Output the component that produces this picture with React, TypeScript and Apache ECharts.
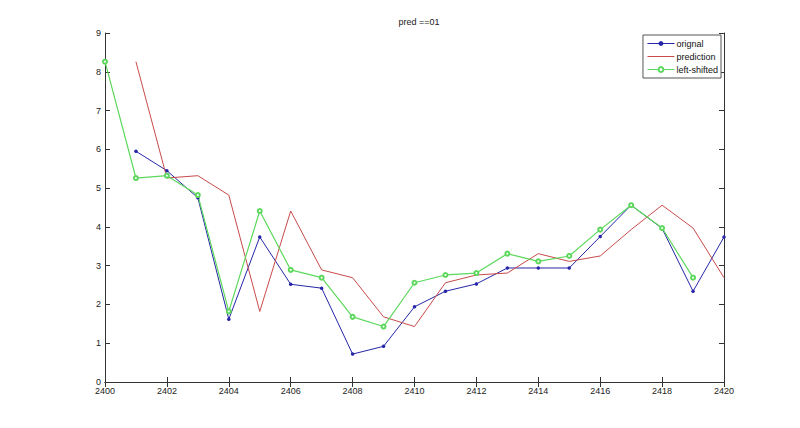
import React, { useEffect, useRef } from "react";
import * as echarts from "echarts";

const xOriginal = [2401, 2402, 2403, 2404, 2405, 2406, 2407, 2408, 2409, 2410, 2411, 2412, 2413, 2414, 2415, 2416, 2417, 2418, 2419, 2420];
const original = [5.95, 5.45, 4.75, 1.62, 3.74, 2.52, 2.42, 0.72, 0.92, 1.94, 2.34, 2.53, 2.94, 2.94, 2.94, 3.75, 4.56, 3.96, 2.34, 3.74];

const xPrediction = [2401, 2402, 2403, 2404, 2405, 2406, 2407, 2408, 2409, 2410, 2411, 2412, 2413, 2414, 2415, 2416, 2417, 2418, 2419, 2420];
const prediction = [8.26, 5.26, 5.32, 4.82, 1.82, 4.41, 2.89, 2.69, 1.68, 1.43, 2.56, 2.76, 2.81, 3.31, 3.11, 3.25, 3.93, 4.56, 3.97, 2.69];

const xShifted = [2400, 2401, 2402, 2403, 2404, 2405, 2406, 2407, 2408, 2409, 2410, 2411, 2412, 2413, 2414, 2415, 2416, 2417, 2418, 2419];
const shifted = [8.26, 5.26, 5.32, 4.82, 1.82, 4.41, 2.89, 2.69, 1.68, 1.43, 2.56, 2.76, 2.81, 3.31, 3.11, 3.25, 3.93, 4.56, 3.97, 2.69];

const seriesNames = ["orignal", "prediction", "left-shifted"];
const titleText = "pred ==01";

const pair = (xs: number[], ys: number[]) => xs.map((x, i) => [x, ys[i]]);

export default function App() {
  const ref = useRef<HTMLDivElement>(null);
  useEffect(() => {
    if (!ref.current) return;
    const chart = echarts.init(ref.current, null, { renderer: "svg" });
    const axisColor = "#333";
    const font = "Helvetica, Arial, 'Liberation Sans', sans-serif";
    const blue = "#2626a8";
    const red = "#c84a4a";
    const green = "#5cd85c";
    const grid = { left: 105, top: 33, width: 619, height: 349 };
    const common = {
      axisLine: { show: true, lineStyle: { color: axisColor, width: 1 } },
      axisTick: { show: true, inside: true, length: 5, lineStyle: { color: axisColor } },
      splitLine: { show: false },
    };
    chart.setOption({
      animation: false,
      backgroundColor: "#fff",
      title: {
        text: titleText,
        left: 414,
        top: 12,
        textAlign: "center",
        textStyle: { fontSize: 9, fontWeight: "normal", color: "#222", fontFamily: font },
      },
      legend: {
        orient: "vertical",
        right: 79,
        top: 35,
        backgroundColor: "#fff",
        borderColor: "#555",
        borderWidth: 1,
        borderRadius: 0,
        padding: [4, 3, 4, 4],
        itemGap: 4,
        itemWidth: 27,
        itemHeight: 6,
        lineStyle: { width: 1 },
        textStyle: { fontSize: 9, color: "#111", fontFamily: font, padding: [0, 0, 0, -3] },
        data: [
          { name: seriesNames[0] },
          { name: seriesNames[1], itemStyle: { opacity: 0 } },
          { name: seriesNames[2] },
        ],
      },
      grid,
      xAxis: [
        {
          type: "value",
          min: 2400,
          max: 2420,
          interval: 2,
          position: "bottom",
          ...common,
          axisLabel: { color: "#222", fontSize: 9, fontFamily: font, margin: 4, formatter: (v: number) => String(v) },
        },
        {
          type: "value",
          min: 2400,
          max: 2420,
          interval: 2,
          position: "top",
          ...common,
          axisLabel: { show: false },
        },
      ],
      yAxis: [
        {
          type: "value",
          min: 0,
          max: 9,
          interval: 1,
          position: "left",
          ...common,
          axisLabel: { color: "#222", fontSize: 9, fontFamily: font, margin: 4 },
        },
        {
          type: "value",
          min: 0,
          max: 9,
          interval: 1,
          position: "right",
          ...common,
          axisLabel: { show: false },
        },
      ],
      series: [
        {
          name: seriesNames[0],
          type: "line",
          data: pair(xOriginal, original),
          symbol: "circle",
          symbolSize: 3.5,
          itemStyle: { color: blue },
          lineStyle: { color: blue, width: 1 },
        },
        {
          name: seriesNames[1],
          type: "line",
          data: pair(xPrediction, prediction),
          showSymbol: false,
          symbol: "none",
          itemStyle: { color: red },
          lineStyle: { color: red, width: 1 },
        },
        {
          name: seriesNames[2],
          type: "line",
          data: pair(xShifted, shifted),
          symbol: "emptyCircle",
          symbolSize: 4,
          itemStyle: { color: green, borderWidth: 1 },
          lineStyle: { color: green, width: 1.2 },
        },
      ],
    });
    return () => chart.dispose();
  }, []);
  return (
    <div
      ref={ref}
      style={{ position: "absolute", left: 0, top: 0, width: 800, height: 428 }}
    />
  );
}
